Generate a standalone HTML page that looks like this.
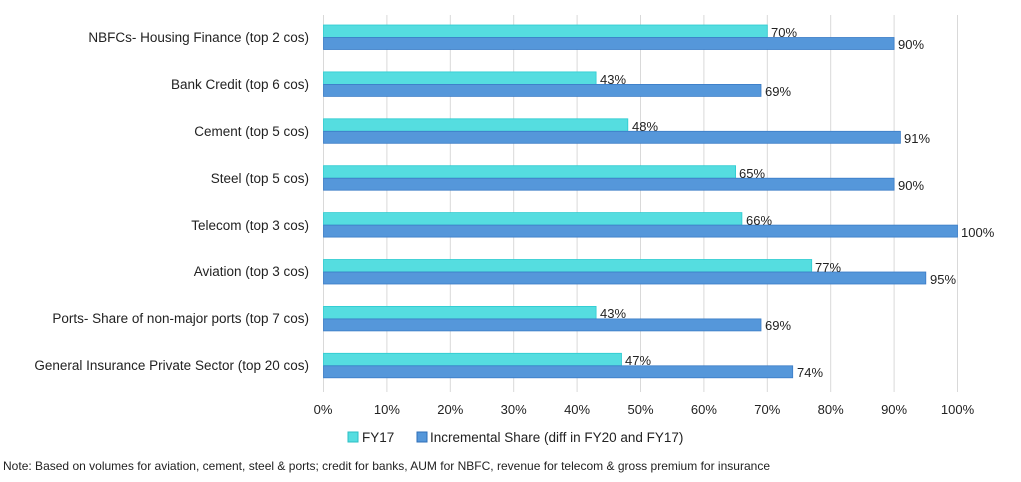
<!DOCTYPE html>
<html><head><meta charset="utf-8"><style>
body{margin:0;background:#fff;}
svg text{font-family:"Liberation Sans",sans-serif;fill:#222;}
.a{fill:#55dde0;stroke:#2bcbd0;stroke-width:0.8}
.b{fill:#5597da;stroke:#3a7cc6;stroke-width:0.8}
</style></head><body>
<svg width="1021" height="477" xmlns="http://www.w3.org/2000/svg">
<g stroke="#d9d9d9" stroke-width="1">
<line x1="323.5" y1="15" x2="323.5" y2="392"/><line x1="386.9" y1="15" x2="386.9" y2="392"/><line x1="450.3" y1="15" x2="450.3" y2="392"/><line x1="513.7" y1="15" x2="513.7" y2="392"/><line x1="577.1" y1="15" x2="577.1" y2="392"/><line x1="640.5" y1="15" x2="640.5" y2="392"/><line x1="703.9" y1="15" x2="703.9" y2="392"/><line x1="767.3" y1="15" x2="767.3" y2="392"/><line x1="830.7" y1="15" x2="830.7" y2="392"/><line x1="894.1" y1="15" x2="894.1" y2="392"/><line x1="957.5" y1="15" x2="957.5" y2="392"/>
</g>
<g>
<rect class="a" x="323.5" y="25" width="443.8" height="12.5"/><rect class="b" x="323.5" y="37.5" width="570.6" height="12"/>
<rect class="a" x="323.5" y="71.9" width="272.6" height="12.5"/><rect class="b" x="323.5" y="84.4" width="437.5" height="12"/>
<rect class="a" x="323.5" y="118.8" width="304.3" height="12.5"/><rect class="b" x="323.5" y="131.3" width="576.9" height="12"/>
<rect class="a" x="323.5" y="165.7" width="412.1" height="12.5"/><rect class="b" x="323.5" y="178.2" width="570.6" height="12"/>
<rect class="a" x="323.5" y="212.6" width="418.4" height="12.5"/><rect class="b" x="323.5" y="225.1" width="634" height="12"/>
<rect class="a" x="323.5" y="259.5" width="488.2" height="12.5"/><rect class="b" x="323.5" y="272" width="602.3" height="12"/>
<rect class="a" x="323.5" y="306.4" width="272.6" height="12.5"/><rect class="b" x="323.5" y="318.9" width="437.5" height="12"/>
<rect class="a" x="323.5" y="353.3" width="298" height="12.5"/><rect class="b" x="323.5" y="365.8" width="469.2" height="12"/>
</g>
<g font-size="13">
<text x="771" y="37">70%</text><text x="898" y="49">90%</text>
<text x="600" y="84">43%</text><text x="765" y="96">69%</text>
<text x="632" y="131">48%</text><text x="904" y="143">91%</text>
<text x="739" y="178">65%</text><text x="898" y="190">90%</text>
<text x="746" y="225">66%</text><text x="961" y="237">100%</text>
<text x="815" y="272">77%</text><text x="930" y="284">95%</text>
<text x="600" y="318">43%</text><text x="765" y="330">69%</text>
<text x="625" y="365">47%</text><text x="797" y="377">74%</text>
</g>
<g font-size="13.5" text-anchor="end">
<text x="309" y="42">NBFCs- Housing Finance (top 2 cos)</text>
<text x="309" y="89">Bank Credit (top 6 cos)</text>
<text x="309" y="136">Cement (top 5 cos)</text>
<text x="309" y="183">Steel (top 5 cos)</text>
<text x="309" y="230">Telecom (top 3 cos)</text>
<text x="309" y="276">Aviation (top 3 cos)</text>
<text x="309" y="323">Ports- Share of non-major ports (top 7 cos)</text>
<text x="309" y="370">General Insurance Private Sector (top 20 cos)</text>
</g>
<g font-size="13" text-anchor="middle">
<text x="323" y="414">0%</text><text x="386.9" y="414">10%</text><text x="450.3" y="414">20%</text><text x="513.7" y="414">30%</text><text x="577.1" y="414">40%</text><text x="640.5" y="414">50%</text><text x="703.9" y="414">60%</text><text x="767.3" y="414">70%</text><text x="830.7" y="414">80%</text><text x="894.1" y="414">90%</text><text x="957.5" y="414">100%</text>
</g>
<rect x="348" y="432" width="10" height="10" fill="#55dde0" stroke="#2bbfc4"/>
<text x="362" y="442" font-size="13.5">FY17</text>
<rect x="417" y="432" width="10" height="10" fill="#5597da" stroke="#2f6fb8"/>
<text x="430" y="442" font-size="13.5">Incremental Share (diff in FY20 and FY17)</text>
<text x="3" y="470" font-size="12" textLength="767">Note: Based on volumes for aviation, cement, steel &amp; ports; credit for banks, AUM for NBFC, revenue for telecom &amp; gross premium for insurance</text>
</svg>
</body></html>
